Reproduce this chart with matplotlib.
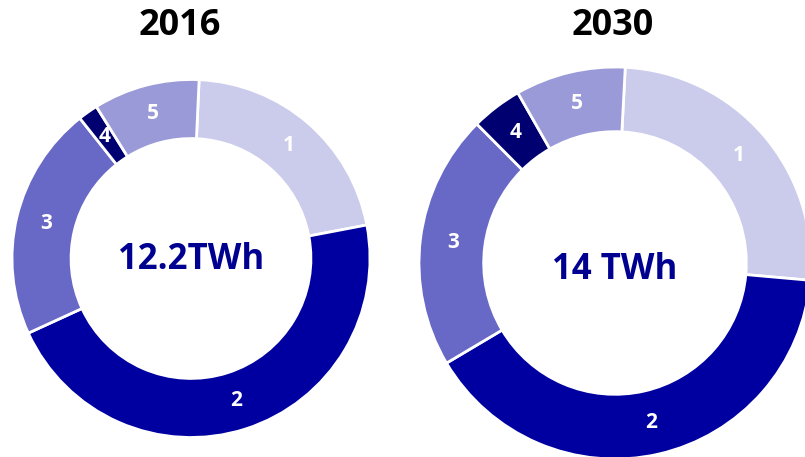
import matplotlib.pyplot as plt

segments = ['1', '2', '3', '4', '5']
colors = ['#CBCBEB', '#0000A0', '#6868C6', '#000070', '#9A9AD8']

share_2016 = [21.3, 46.2, 21.2, 1.8, 9.6]
share_2030 = [25.6, 40.1, 21.1, 4.2, 9.1]
totals = ['12.2TWh', '14 TWh']
years = ['2016', '2030']

plt.rcParams['font.family'] = ['Open Sans', 'DejaVu Sans']

fig = plt.figure(figsize=(8.05, 4.57), dpi=100)
ax = fig.add_axes([0, 0, 1, 1])

# pixel layout of the two rings (y measured from bottom)
centers = [(191, 457 - 258.5), (615, 457 - 263)]
radii = [179, 196]
offsets = [2.6, 3.0]
total_y = [457 - 260, 457 - 270]

for vals, (cx, cy), r, off, total, ty in zip(
        [share_2016, share_2030], centers, radii, offsets, totals, total_y):
    ax.pie(vals, labels=segments, colors=colors,
           center=(cx, cy), radius=r,
           startangle=90 - off, counterclock=False,
           labeldistance=0.835,
           wedgeprops=dict(width=r * 0.33, edgecolor='white', linewidth=2),
           textprops=dict(color='white', fontsize=15,
                          fontweight='bold', ha='center', va='center'))
    ax.text(cx, ty, total, ha='center', va='center', fontsize=25,
            fontweight='bold', color='#000090')

ax.set_xlim(0, 805)
ax.set_ylim(0, 457)
ax.set_aspect('equal')
ax.axis('off')
ax.text(180, 457 - 26, years[0], ha='center', va='center', fontsize=26,
        fontweight='bold', color='black')
ax.text(613, 457 - 26, years[1], ha='center', va='center', fontsize=26,
        fontweight='bold', color='black')

fig.savefig('out.png', dpi=100)
